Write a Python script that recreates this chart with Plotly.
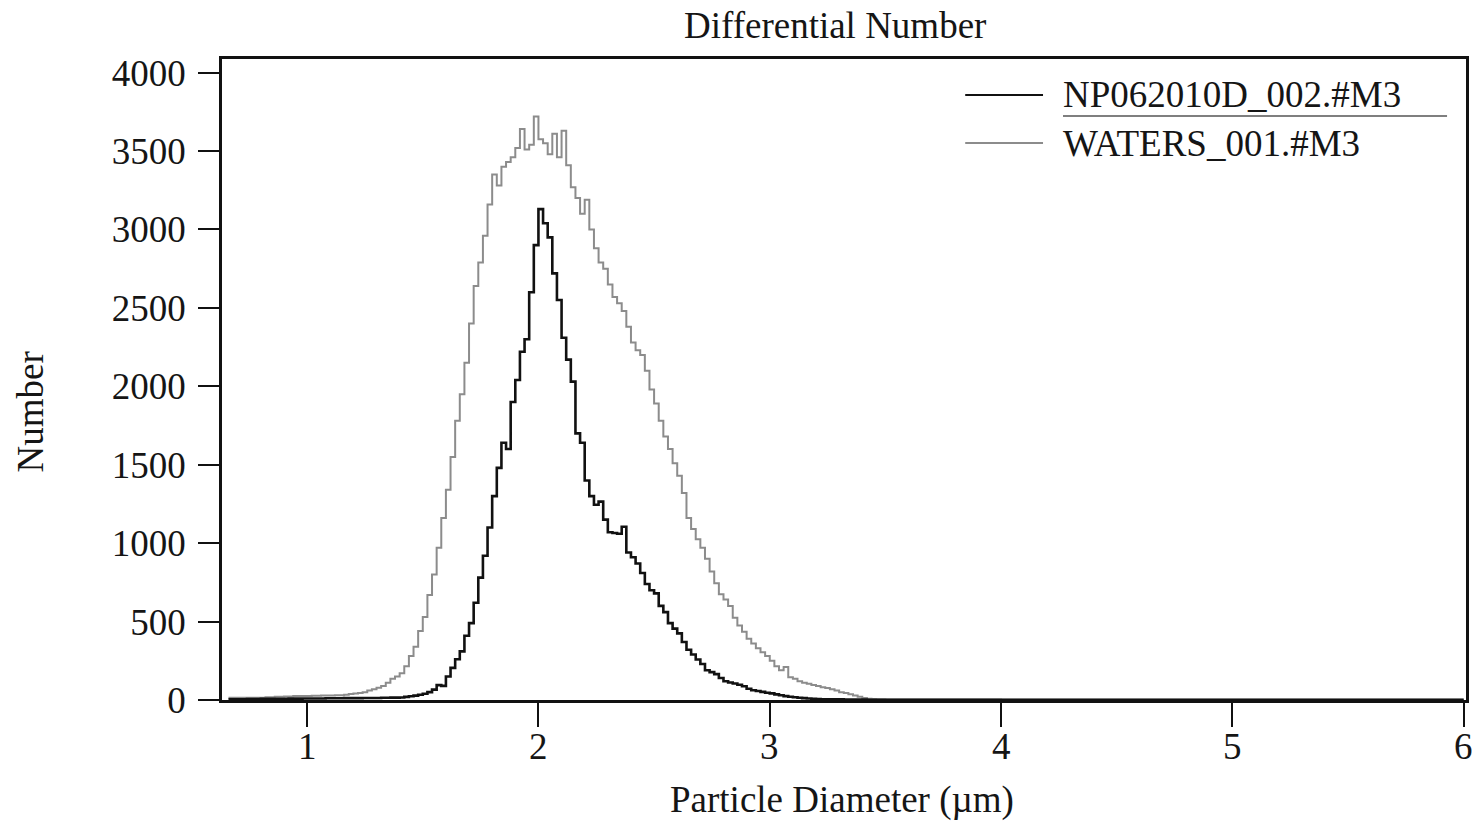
import plotly.graph_objects as go

# Bin left edges (particle diameter, µm)
diameter = [
    0.66, 0.68, 0.70, 0.72, 0.74, 0.76, 0.78, 0.80, 0.82, 0.84, 0.86, 0.88, 0.90, 0.92, 0.94, 0.96, 0.98,
    1.00, 1.02, 1.04, 1.06, 1.08, 1.10, 1.12, 1.14, 1.16, 1.18, 1.20, 1.22, 1.24, 1.26, 1.28, 1.30, 1.32,
    1.34, 1.36, 1.38, 1.40, 1.42, 1.44, 1.46, 1.48, 1.50, 1.52, 1.54, 1.56, 1.58, 1.60, 1.62, 1.64, 1.66,
    1.68, 1.70, 1.72, 1.74, 1.76, 1.78, 1.80, 1.82, 1.84, 1.86, 1.88, 1.90, 1.92, 1.94, 1.96, 1.98, 2.00,
    2.02, 2.04, 2.06, 2.08, 2.10, 2.12, 2.14, 2.16, 2.18, 2.20, 2.22, 2.24, 2.26, 2.28, 2.30, 2.32, 2.34,
    2.36, 2.38, 2.40, 2.42, 2.44, 2.46, 2.48, 2.50, 2.52, 2.54, 2.56, 2.58, 2.60, 2.62, 2.64, 2.66, 2.68,
    2.70, 2.72, 2.74, 2.76, 2.78, 2.80, 2.82, 2.84, 2.86, 2.88, 2.90, 2.92, 2.94, 2.96, 2.98, 3.00, 3.02,
    3.04, 3.06, 3.08, 3.10, 3.12, 3.14, 3.16, 3.18, 3.20, 3.22, 3.24, 3.26, 3.28, 3.30, 3.32, 3.34, 3.36,
    3.38, 3.40, 3.42, 3.44, 3.46, 3.48, 3.50,
    3.60, 3.80, 4.00, 4.20, 4.40, 4.60, 4.80, 5.00, 5.20, 5.40, 5.60, 5.80, 6.00,
]

# NP062010D_002.#M3 (black)
np_sample = [
    5, 5, 5, 5, 6, 6, 6, 7, 7, 7, 8, 8, 8, 9, 9, 9, 10,
    10, 10, 10, 10, 11, 11, 11, 11, 12, 12, 12, 12, 13, 13, 13, 13, 14,
    14, 15, 15, 16, 20, 24, 28, 33, 40, 50, 66, 95, 90, 150, 205, 260, 310,
    410, 490, 620, 780, 920, 1100, 1300, 1480, 1640, 1600, 1900, 2040, 2220, 2300, 2600, 2900, 3130,
    3040, 2950, 2720, 2550, 2310, 2170, 2030, 1700, 1640, 1400, 1300, 1245, 1265, 1150, 1070, 1065, 1060,
    1105, 940, 910, 870, 810, 740, 700, 680, 600, 560, 490, 455, 425, 370, 320, 290, 258,
    230, 190, 178, 165, 140, 120, 112, 105, 97, 88, 72, 62, 57, 52, 46, 42, 36,
    30, 25, 21, 18, 14, 12, 10, 8, 6, 5, 5, 4, 4, 4, 3, 3, 3,
    3, 3, 2, 2, 2, 2, 2,
    2, 2, 1, 1, 1, 1, 1, 1, 1, 1, 1, 1, 1,
]

# WATERS_001.#M3 (grey)
waters = [
    15, 15, 15, 15, 15, 15, 15, 15, 18, 18, 20, 20, 22, 22, 25, 25, 25,
    26, 27, 27, 28, 28, 29, 30, 30, 34, 38, 42, 45, 50, 60, 68, 78, 90,
    110, 135, 150, 170, 215, 280, 340, 440, 530, 670, 800, 970, 1160, 1340, 1550, 1780, 1950,
    2150, 2400, 2640, 2790, 2960, 3160, 3350, 3280, 3400, 3430, 3460, 3520, 3640, 3510, 3540, 3720, 3575,
    3550, 3480, 3610, 3460, 3630, 3410, 3270, 3200, 3100, 3190, 3000, 2880, 2790, 2750, 2650, 2570, 2530,
    2480, 2380, 2280, 2230, 2200, 2100, 1980, 1890, 1780, 1680, 1600, 1510, 1430, 1320, 1160, 1090, 1025,
    970, 900, 820, 745, 675, 640, 600, 525, 475, 435, 390, 360, 330, 305, 280, 250, 215,
    190, 210, 145, 135, 120, 110, 103, 96, 90, 82, 76, 68, 60, 50, 44, 36, 28,
    20, 12, 8, 6, 5, 4, 3,
    3, 3, 2, 2, 2, 2, 2, 2, 2, 2, 2, 2, 2,
]

x_ticks = [1, 2, 3, 4, 5, 6]
x_tick_labels = ["1", "2", "3", "4", "5", "6"]
y_ticks = [0, 500, 1000, 1500, 2000, 2500, 3000, 3500, 4000]
series_names = ["NP062010D_002.#M3", "WATERS_001.#M3"]

assert len(diameter) == len(np_sample) == len(waters)

FONT = "Liberation Serif, Times New Roman, serif"
FS = 37
TXT = "#151515"

fig = go.Figure()
fig.add_trace(go.Scatter(x=diameter, y=waters, mode="lines", line_shape="hv",
                         line=dict(color="#8c8c8c", width=2), name=series_names[1],
                         showlegend=False))
fig.add_trace(go.Scatter(x=diameter, y=np_sample, mode="lines", line_shape="hv",
                         line=dict(color="#111111", width=2.6), name=series_names[0],
                         showlegend=False))

L, R, T, B = 222, 1469, 59, 700
W, H = 1479, 823


def px(x):
    return (x - L) / (R - L)


def py(y):
    return (B - y) / (B - T)


fig.update_layout(
    width=W, height=H,
    margin=dict(l=L, r=W - R, t=T, b=H - B),
    paper_bgcolor="white", plot_bgcolor="white",
    font=dict(family=FONT, size=FS, color=TXT),
    xaxis=dict(range=[0.632, 6.01], tickvals=x_ticks, ticks="outside", ticklen=24, tickwidth=2.2,
               tickcolor="#111", showline=True, linecolor="#111", linewidth=2.5, mirror=True,
               showgrid=False, zeroline=False, showticklabels=False),
    yaxis=dict(range=[0, 4087], tickvals=y_ticks, ticks="outside", ticklen=21, tickwidth=2.2,
               tickcolor="#111", showline=True, linecolor="#111", linewidth=2.5, mirror=True,
               showgrid=False, zeroline=False, ticklabelstandoff=5,
               tickfont=dict(family=FONT, size=FS, color=TXT)),
    showlegend=False,
)

# X tick labels placed close under the ticks
for tv, tl in zip(x_ticks, x_tick_labels):
    fig.add_annotation(text=tl, xref="x", yref="paper", x=tv, y=py(746), showarrow=False,
                       xanchor="center", yanchor="middle", font=dict(family=FONT, size=FS, color=TXT))

# Titles
fig.add_annotation(text="Differential Number", xref="paper", yref="paper", x=px(836), y=py(25),
                   showarrow=False, xanchor="center", yanchor="middle",
                   font=dict(family=FONT, size=FS, color=TXT))
fig.add_annotation(text="Particle Diameter (µm)", xref="paper", yref="paper", x=px(843), y=py(800),
                   showarrow=False, xanchor="center", yanchor="middle",
                   font=dict(family=FONT, size=FS, color=TXT))
fig.add_annotation(text="Number", xref="paper", yref="paper", x=px(30), y=py(412), textangle=-90,
                   showarrow=False, xanchor="center", yanchor="middle",
                   font=dict(family=FONT, size=FS, color=TXT))

# Legend drawn manually
legend_colors = ["#111111", "#8c8c8c"]
legend_y = [95, 143]
for name, col, yy in zip(series_names, legend_colors, legend_y):
    fig.add_shape(type="line", xref="paper", yref="paper", x0=px(967), x1=px(1045), y0=py(yy), y1=py(yy),
                  line=dict(color=col, width=2.2))
    fig.add_annotation(text=name, xref="paper", yref="paper", x=px(1063), y=py(yy), showarrow=False,
                       xanchor="left", yanchor="middle", font=dict(family=FONT, size=FS, color=TXT))
fig.add_shape(type="line", xref="paper", yref="paper", x0=px(1065), x1=px(1450), y0=py(116), y1=py(116),
              line=dict(color="#555555", width=1.5))

fig.write_html("out.html")
